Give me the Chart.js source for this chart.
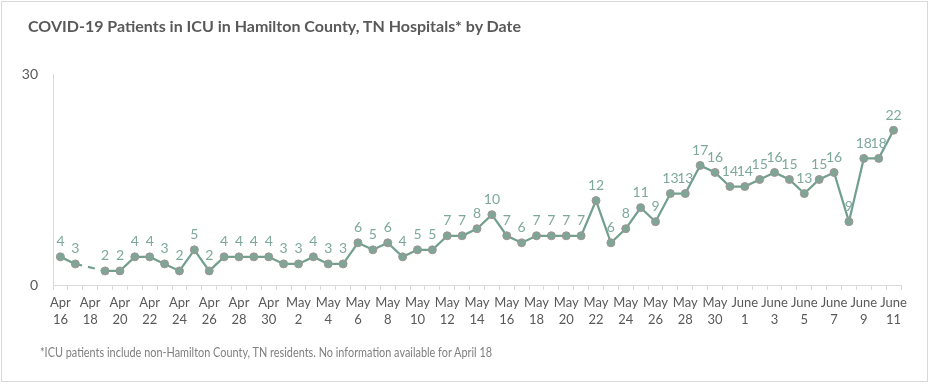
<!DOCTYPE html>
<html lang="en">
<head>
    <meta charset="UTF-8">
    <title>COVID-19 Patients in ICU</title>
    <script src="https://cdn.jsdelivr.net/npm/chart.js"></script>
    <style>
        body { margin: 0; background: #fff; }
        #frame {
            position: absolute; left: 1px; top: 1px;
            width: 925px; height: 379px;
            border: 1px solid #d9d9d9;
        }
        #title {
            position: absolute; left: 28px; top: 16px;
            font: bold 16px Lato, "Open Sans", sans-serif;
            color: #595959; white-space: nowrap;
        }
        #note {
            position: absolute; left: 40px; top: 344px;
            font: 13px Lato, "Open Sans", sans-serif;
            color: #808080; white-space: nowrap;
            transform-origin: 0 0;
        }
        #wrap { position: absolute; left: 0; top: 0; width: 935px; height: 386px; }
    </style>
</head>
<body>
    <div id="frame"></div>
    <div id="wrap"><canvas id="icuChart"></canvas></div>
    <div id="title">COVID-19 Patients in ICU in Hamilton County, TN Hospitals* by Date</div>
    <div id="note">*ICU patients include non-Hamilton County, TN residents. No information available for April 18</div>

    <script>
        const months = [];
        const days = [];
        for (let d = 16; d <= 30; d++) { months.push("Apr"); days.push(d); }
        for (let d = 1; d <= 31; d++) { months.push("May"); days.push(d); }
        for (let d = 1; d <= 11; d++) { months.push("June"); days.push(d); }

        // null = no information (April 18)
        const icuPatients = [
            4, 3, null, 2, 2, 4, 4, 3, 2, 5, 2, 4, 4, 4, 4,
            3, 3, 4, 3, 3, 6, 5, 6, 4, 5, 5, 7, 7, 8, 10, 7, 6, 7, 7, 7, 7, 12, 6, 8, 11, 9, 13, 13, 17, 16, 14,
            14, 15, 16, 15, 13, 15, 16, 9, 18, 18, 22
        ];
        const yTicks = [0, 30];

        const labels = months.map((m, i) => [m, String(days[i])]);

        const lineColor = "#72a08f";
        const labelColor = "#7ea99a";
        const axisColor = "#d9d9d9";

        // squeeze the footnote to the narrow width of the original
        const note = document.getElementById("note");
        note.style.transform = "scaleX(" + (452 / note.offsetWidth) + ")";

        const valueLabels = {
            id: "valueLabels",
            afterDatasetsDraw(chart) {
                const ctx = chart.ctx;
                const meta = chart.getDatasetMeta(0);
                ctx.save();
                ctx.font = "14px Lato, 'Open Sans', sans-serif";
                ctx.fillStyle = labelColor;
                ctx.textAlign = "center";
                ctx.textBaseline = "bottom";
                meta.data.forEach((pt, i) => {
                    const v = icuPatients[i];
                    if (v === null) return;
                    ctx.fillText(String(v), pt.x, pt.y - 8);
                });
                ctx.restore();
            }
        };

        new Chart(document.getElementById("icuChart").getContext("2d"), {
            type: "line",
            data: {
                labels: labels,
                datasets: [{
                    data: icuPatients,
                    borderColor: lineColor,
                    borderWidth: 2.25,
                    pointRadius: 4,
                    pointBackgroundColor: "#7fa596",
                    pointBorderColor: "#a09494",
                    pointBorderWidth: 1,
                    tension: 0,
                    spanGaps: true,
                    segment: {
                        borderDash: ctx => (ctx.p1DataIndex - ctx.p0DataIndex > 1 || ctx.p0.skip || ctx.p1.skip) ? [7, 6] : undefined
                    }
                }]
            },
            options: {
                responsive: true,
                maintainAspectRatio: false,
                animation: false,
                layout: { padding: { left: 0, right: 34, top: 74, bottom: 0 } },
                plugins: {
                    legend: { display: false },
                    tooltip: { enabled: false }
                },
                scales: {
                    x: {
                        offset: true,
                        grid: {
                            offset: true,
                            drawOnChartArea: false,
                            drawTicks: true,
                            tickLength: 5,
                            color: axisColor
                        },
                        border: { display: true, color: axisColor, width: 1 },
                        ticks: {
                            autoSkip: false,
                            maxRotation: 0,
                            padding: 4,
                            color: "#595959",
                            font: { family: "Lato, 'Open Sans', sans-serif", size: 13, lineHeight: 1.3 },
                            callback: (value, index) => index % 2 === 0 ? labels[index] : ""
                        },
                        afterFit: scale => { scale.height = 101; }
                    },
                    y: {
                        min: yTicks[0],
                        max: yTicks[1],
                        grid: { display: false, drawTicks: false },
                        border: { display: true, color: axisColor, width: 1 },
                        ticks: {
                            stepSize: 30,
                            padding: 15,
                            color: "#595959",
                            font: { family: "Lato, 'Open Sans', sans-serif", size: 14 }
                        },
                        afterFit: scale => { scale.width = 53; }
                    }
                }
            },
            plugins: [valueLabels]
        });
    </script>
</body>
</html>
